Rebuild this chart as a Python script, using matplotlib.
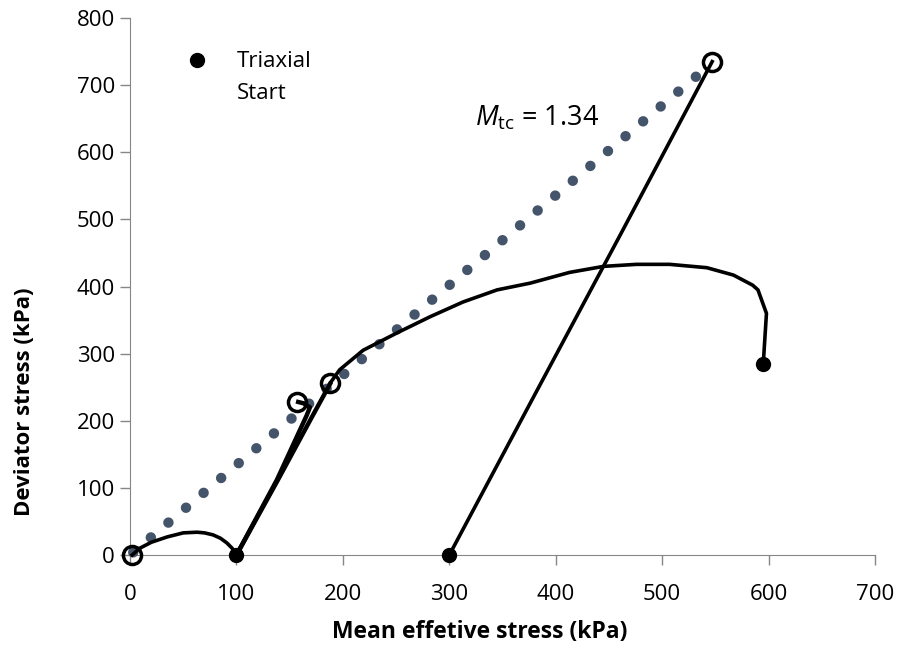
import numpy as np
import matplotlib.pyplot as plt

plt.rcParams['font.family'] = ['Open Sans', 'DejaVu Sans']
plt.rcParams['mathtext.fontset'] = 'custom'
plt.rcParams['mathtext.rm'] = 'Open Sans'
plt.rcParams['mathtext.it'] = 'Open Sans:italic'

# critical state line, M_tc = 1.34
CSL_P = [3, 547]
CSL_Q = [4, 733]

# small arch from p=100 back to the origin
ARCH_P = [100, 96, 91, 85, 78, 70, 63, 50, 35, 20, 9, 2]
ARCH_Q = [0, 10, 18, 25, 30, 33, 34, 33, 27, 19, 10, 0]

# steep paths starting at p=100
STEEP1_P = [100, 138, 166, 169, 163, 158]
STEEP1_Q = [0, 112, 208, 220, 226, 228]
STEEP2_P = [100, 139, 170, 188]
STEEP2_Q = [0, 112, 203, 255]

# path starting at p=300
TC_P = [300, 380, 460, 547]
TC_Q = [0, 238, 475, 735]

# big path starting at p=595
BIG_P = [595, 598, 590, 585, 567, 542, 507, 476, 445, 413, 376, 345, 313, 282, 251, 219, 197, 188]
BIG_Q = [285, 360, 395, 402, 417, 428, 433, 433, 430, 421, 405, 395, 377, 355, 331, 305, 276, 256]

START_P = [100, 300, 595]
START_Q = [0, 0, 285]
END_P = [2, 157, 188, 547]
END_Q = [0, 228, 256, 735]

fig = plt.figure(figsize=(8.98, 6.49), dpi=100)
ax = fig.add_axes([0.1448, 0.1448, 0.8296, 0.8275])

ax.plot(CSL_P, CSL_Q, color='#44546A', lw=7.5, linestyle=(0, (0.01, 2.2)),
        dash_capstyle='round', zorder=2, clip_on=False)

for p, q in [(ARCH_P, ARCH_Q), (TC_P, TC_Q), (BIG_P, BIG_Q)]:
    ax.plot(p, q, color='black', lw=2.6, solid_joinstyle='round', zorder=3, clip_on=False)
for p, q in [(STEEP1_P, STEEP1_Q), (STEEP2_P, STEEP2_Q)]:
    ax.plot(p, q, color='black', lw=3.2, solid_joinstyle='round', zorder=3, clip_on=False)

ax.plot(START_P, START_Q, 'o', color='black', ms=10, zorder=4, clip_on=False)
ax.plot(END_P, END_Q, 'o', mfc='none', mec='black', mew=2.5, ms=13, zorder=4, clip_on=False)

ax.plot([], [], 'o', color='black', ms=10, label='Triaxial')
ax.plot([], [], ls='none', marker='none', label='Start')
ax.legend(loc='upper left', bbox_to_anchor=(0.042, 0.975), frameon=False,
          fontsize=16, handletextpad=1.1, labelspacing=0.48, handlelength=1.4)

ax.text(324, 651, r'$\mathit{M}_{\mathrm{tc}}$ = 1.34', fontsize=19.5, va='center')

ax.set_xlim(0, 700)
ax.set_ylim(0, 800)
ax.set_xticks(np.arange(0, 701, 100))
ax.set_yticks(np.arange(0, 801, 100))
ax.tick_params(labelsize=16, length=7, color='#868686', width=1)
ax.tick_params(axis='x', pad=14)
ax.tick_params(axis='y', pad=4)
for s in ['top', 'right']:
    ax.spines[s].set_visible(False)
for s in ['left', 'bottom']:
    ax.spines[s].set_color('#868686')
    ax.spines[s].set_zorder(1)
ax.set_xlabel('Mean effetive stress (kPa)', fontsize=16.5, fontweight='bold')
ax.set_ylabel('Deviator stress (kPa)', fontsize=16, fontweight='bold')
ax.xaxis.set_label_coords(0.47, -0.121)
ax.yaxis.set_label_coords(-0.127, 0.285)

fig.savefig('out.png', dpi=100)
